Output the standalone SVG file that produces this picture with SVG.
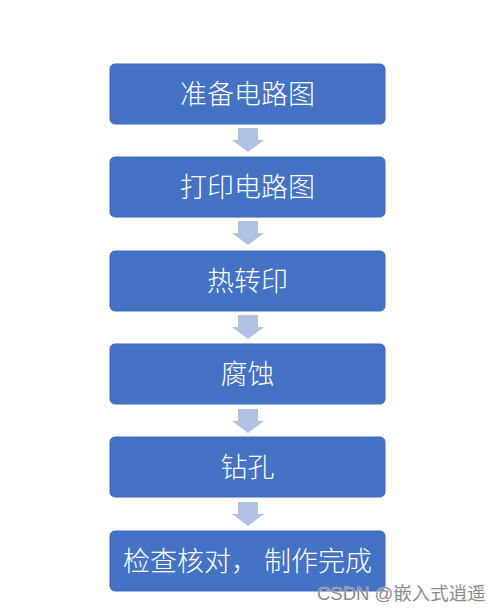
<svg xmlns="http://www.w3.org/2000/svg" width="503" height="613" viewBox="0 0 503 613">
<style>
.box{fill:#4472C4;stroke:#3F6BBA;stroke-width:1}
.t{fill:#fff;font-family:"Noto Sans CJK SC","Noto Sans",sans-serif;font-size:27px;font-weight:300;text-anchor:middle;dominant-baseline:central}
.arr{fill:#B0C1E3}
.wm{fill:#8c8c8c;stroke:#fff;stroke-width:0.6;paint-order:stroke;font-family:"Liberation Sans","Noto Sans CJK SC",sans-serif;font-size:18.5px}
</style>
<rect width="503" height="613" fill="#fff"/>
<g id="connectors">
<polygon class="arr" points="238,128 258,128 258,140 264,140 248,152 232,140 238,140"/>
<polygon class="arr" points="238,221 258,221 258,233 264,233 248,245 232,233 238,233"/>
<polygon class="arr" points="238,315 258,315 258,327 264,327 248,339 232,327 238,327"/>
<polygon class="arr" points="238,409 258,409 258,421 264,421 248,433 232,421 238,421"/>
<polygon class="arr" points="238,502 258,502 258,514 264,514 248,526 232,514 238,514"/>
</g>
<g id="n1"><rect class="box" x="110" y="64" width="275" height="60" rx="5"/><text class="t" x="247.5" y="92">准备电路图</text></g>
<g id="n2"><rect class="box" x="110" y="157" width="275" height="60" rx="5"/><text class="t" x="247.5" y="185">打印电路图</text></g>
<g id="n3"><rect class="box" x="110" y="251" width="275" height="60" rx="5"/><text class="t" x="247.5" y="279">热转印</text></g>
<g id="n4"><rect class="box" x="110" y="344" width="275" height="60" rx="5"/><text class="t" x="247.5" y="372">腐蚀</text></g>
<g id="n5"><rect class="box" x="110" y="437" width="275" height="60" rx="5"/><text class="t" x="247.5" y="465">钻孔</text></g>
<g id="n6"><rect class="box" x="110" y="531" width="275" height="60" rx="5"/><text class="t" x="247.5" y="559">检查核对， 制作完成</text></g>
<text class="wm" x="317" y="600">CSDN @嵌入式逍遥</text>
</svg>
